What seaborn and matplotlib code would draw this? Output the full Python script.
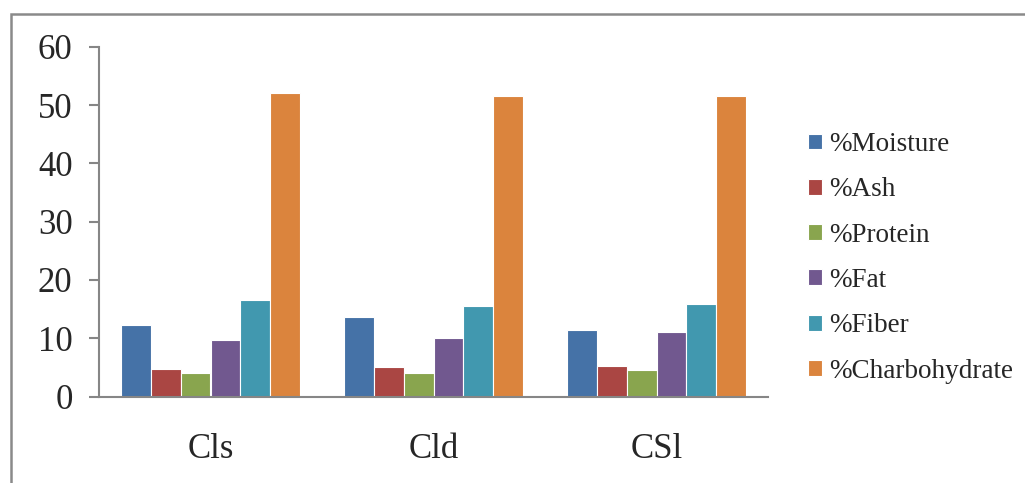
import matplotlib
matplotlib.use("Agg")
import matplotlib.pyplot as plt
import seaborn as sns
import pandas as pd
from matplotlib.patches import Rectangle

samples = ["Cls", "Cld", "CSl"]
components = ["%Moisture", "%Ash", "%Protein", "%Fat", "%Fiber", "%Charbohydrate"]
moisture = [12.2, 13.6, 11.4]
ash = [4.8, 5.1, 5.2]
protein = [4.0, 4.0, 4.5]
fat = [9.7, 10.1, 11.1]
fiber = [16.5, 15.6, 15.8]
carbohydrate = [52.1, 51.5, 51.6]
y_ticks = [0, 10, 20, 30, 40, 50, 60]

colors = ["#4572A7", "#AA4643", "#89A54E", "#71588F", "#4198AF", "#DB843D"]

series = [moisture, ash, protein, fat, fiber, carbohydrate]
rows = []
for comp, vals in zip(components, series):
    for s, v in zip(samples, vals):
        rows.append({"sample": s, "component": comp, "value": v})
df = pd.DataFrame(rows)

sns.set_style("white")
plt.rcParams["font.family"] = ["Liberation Serif", "DejaVu Serif"]

fig = plt.figure(figsize=(10.25, 4.83), dpi=100)
ax = fig.add_axes([99 / 1025, 1 - 396.5 / 483, (768 - 99) / 1025, (396.5 - 46.7) / 483])

sns.barplot(data=df, x="sample", y="value", hue="component", order=samples,
            hue_order=components, palette=colors, saturation=1, width=0.8,
            edgecolor="white", linewidth=0.8, ax=ax, legend=True)

ax.set_ylim(0, 60)
ax.set_xlim(-0.5, 2.5)
ax.set_yticks(y_ticks)
ax.set_yticklabels([str(t) for t in y_ticks], fontsize=25)
ax.set_xticks(range(len(samples)))
ax.set_xticklabels(samples, fontsize=25)
ax.set_xticks([-0.5, 0.5, 1.5, 2.5], minor=True)
ax.tick_params(axis="x", which="major", length=0, pad=26)
ax.tick_params(axis="x", which="minor", length=7, width=1.5, color="#868686", direction="out")
ax.tick_params(axis="y", which="major", length=7, width=1.5, color="#868686", direction="out", pad=12, left=True)
ax.set_xlabel("")
ax.set_ylabel("")

for side in ["top", "right"]:
    ax.spines[side].set_visible(False)
for side in ["left", "bottom"]:
    ax.spines[side].set_color("#868686")
    ax.spines[side].set_linewidth(1.5)

handles, labels = ax.get_legend_handles_labels()
ax.get_legend().remove()
fig.legend(handles, labels, loc="upper left", bbox_to_anchor=(808 / 1025, 1 - 132 / 483),
           frameon=False, fontsize=19.5, handlelength=0.52, handleheight=0.52,
           handletextpad=0.25, labelspacing=0.75, borderpad=0, borderaxespad=0)

fig.patches.append(Rectangle((11 / 1025, -0.1), 1.2, 1 - 14 / 483 + 0.1,
                             transform=fig.transFigure, fill=False,
                             edgecolor="#8a8a8a", linewidth=1.8))

fig.savefig("out.png", dpi=100)
